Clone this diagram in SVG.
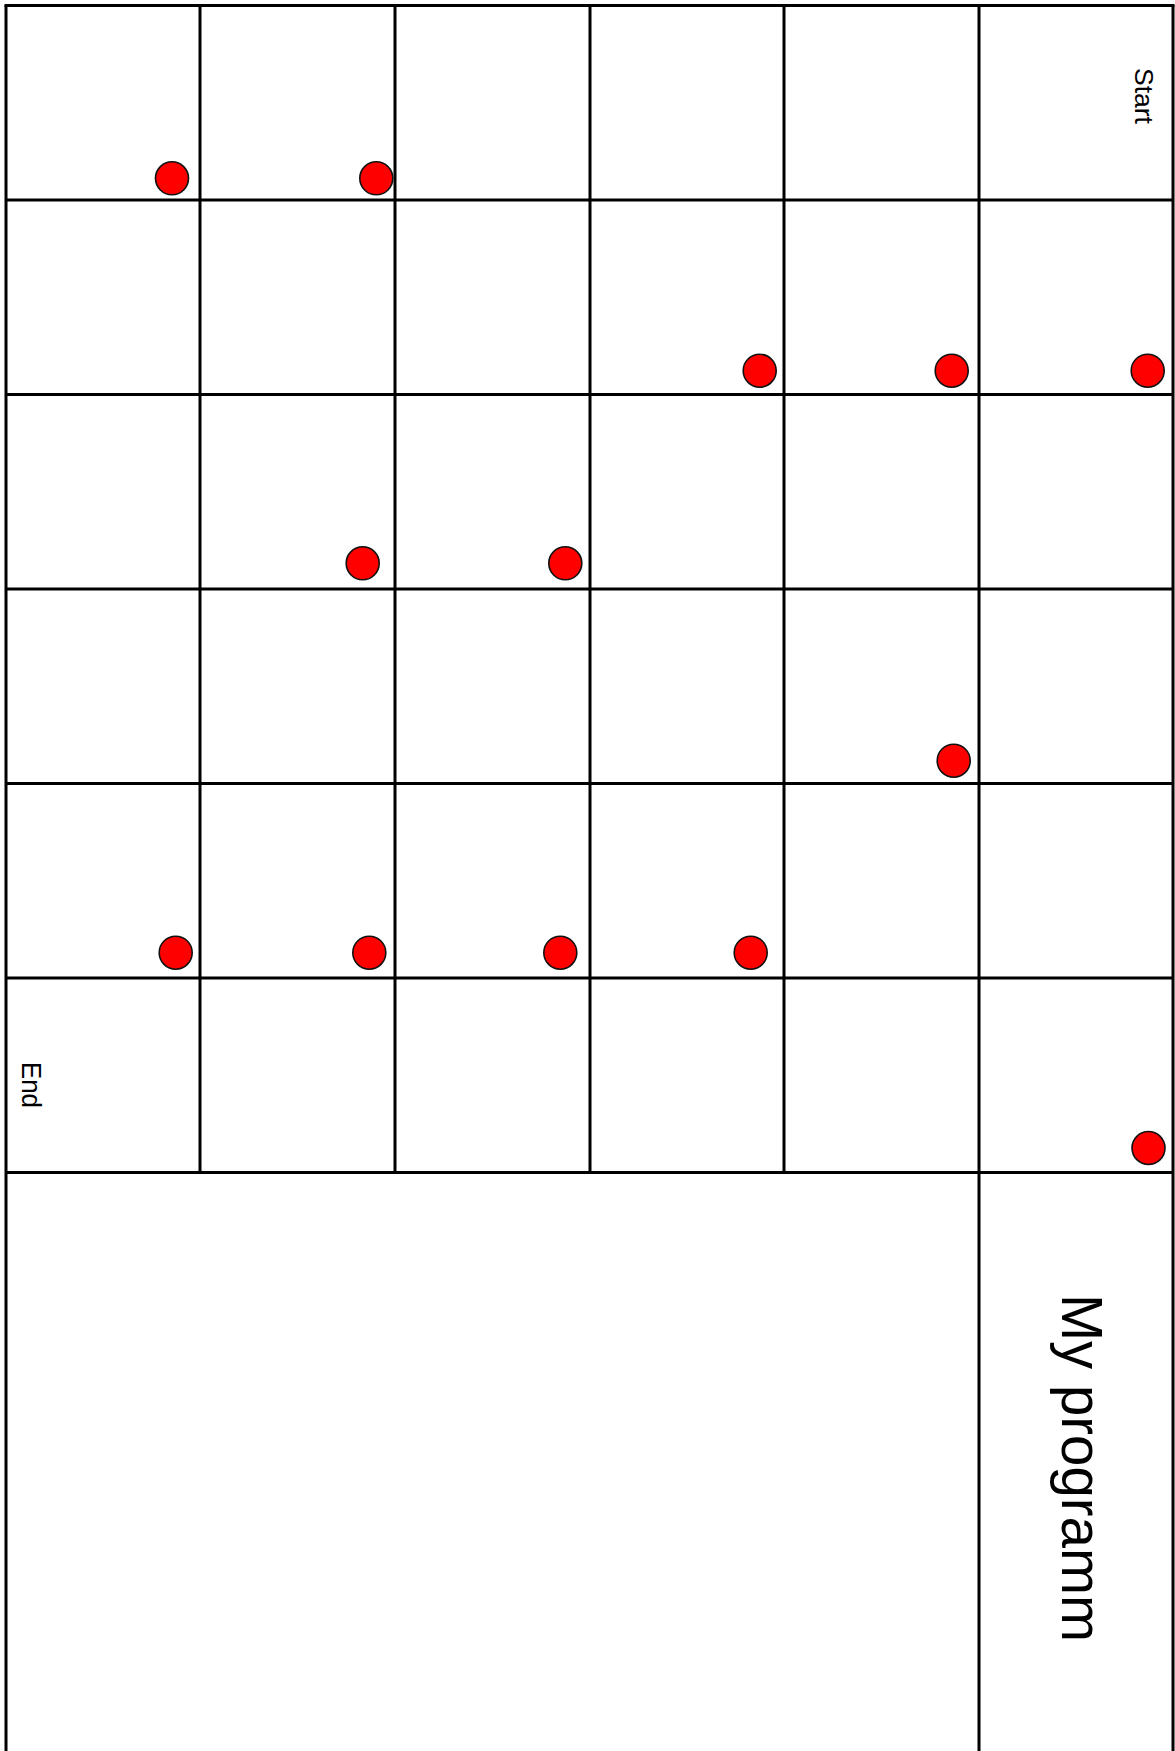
<svg xmlns="http://www.w3.org/2000/svg" width="1175" height="1751" viewBox="0 0 1175 1751">
<style>
.g{stroke:#000;stroke-width:3;fill:none}
.d{fill:#ff0000;stroke:#111;stroke-width:1.6}
.t{font-family:"Liberation Sans",Arial,sans-serif;fill:#000}
</style>
<rect width="1175" height="1751" fill="#fff"/>
<g id="grid" class="g">
<path d="M6 5.5V1751M1173 5.5V1751M979 5.5V1751"/>
<path d="M200 5.5V1172.5M395 5.5V1172.5M590 5.5V1172.5M784 5.5V1172.5"/>
<path d="M4.5 5.5H1174.5M6 200H1173M6 394.5H1173M6 589H1173M6 783.5H1173M6 978H1173M6 1172.5H1173"/>
</g>
<g id="labels">
<text id="start" class="t" font-size="26" textLength="56" lengthAdjust="spacingAndGlyphs" transform="translate(1135 68) rotate(90)">Start</text>
<text id="end" class="t" font-size="27" textLength="46" lengthAdjust="spacingAndGlyphs" transform="translate(21.5 1062) rotate(90)">End</text>
<text id="title" class="t" font-size="57" textLength="348" lengthAdjust="spacingAndGlyphs" transform="translate(1062 1294) rotate(90)">My programm</text>
</g>
<g id="dots">
<circle class="d" cx="172" cy="178.3" r="16.5"/>
<circle class="d" cx="376.3" cy="178.3" r="16.5"/>
<circle class="d" cx="759.7" cy="370.7" r="16.5"/>
<circle class="d" cx="951.7" cy="370.7" r="16.5"/>
<circle class="d" cx="1147.7" cy="370.7" r="16.5"/>
<circle class="d" cx="362.7" cy="563.3" r="16.5"/>
<circle class="d" cx="565.3" cy="563.3" r="16.5"/>
<circle class="d" cx="953.7" cy="760.7" r="16.5"/>
<circle class="d" cx="175.7" cy="952.7" r="16.5"/>
<circle class="d" cx="369.3" cy="952.7" r="16.5"/>
<circle class="d" cx="560.3" cy="952.7" r="16.5"/>
<circle class="d" cx="750.7" cy="952.7" r="16.5"/>
<circle class="d" cx="1148.5" cy="1148" r="16.5"/>
</g>
</svg>
